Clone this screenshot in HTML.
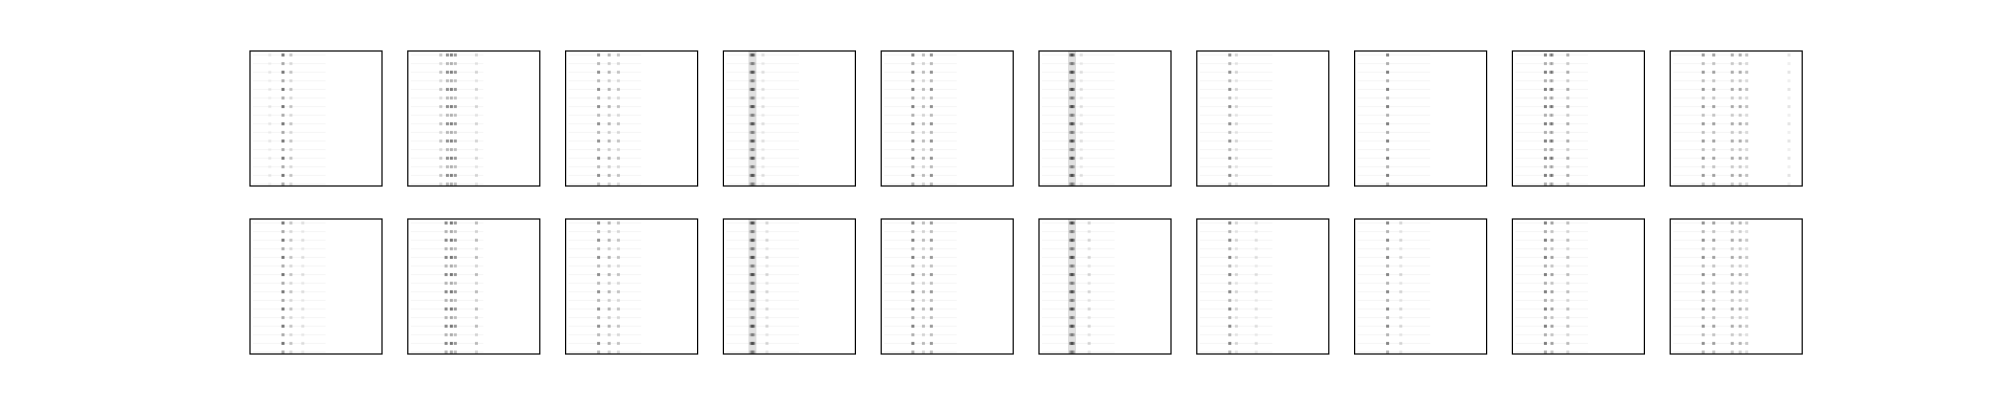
<!DOCTYPE html>
<html><head><meta charset="utf-8"><style>
html,body{margin:0;padding:0;background:#fff;}
svg{display:block;}
</style></head><body>
<svg id="fig" width="2000" height="400" viewBox="0 0 2000 400" xmlns="http://www.w3.org/2000/svg">
<rect width="2000" height="400" fill="#fff"/>
</svg>
<script>
// column fractions (0..1 of panel width) with dark dots, per panel (row 1 then row 2)
const panelColumns = [
  [0.25,0.31,0.15],[0.30,0.33,0.36,0.52,0.25],[0.25,0.33,0.40],[0.22,0.21,0.23,0.30],[0.24,0.32,0.38],
  [0.25,0.24,0.26,0.32],[0.25,0.30],[0.25],[0.25,0.30,0.42,0.29],[0.25,0.33,0.47,0.53,0.58,0.90],
  [0.25,0.31,0.40],[0.29,0.33,0.36,0.52],[0.25,0.33,0.40],[0.22,0.21,0.23,0.33],[0.24,0.32,0.38],
  [0.25,0.24,0.26,0.38],[0.25,0.30,0.45],[0.25,0.35],[0.25,0.30,0.42],[0.25,0.33,0.47,0.53,0.58]
];
// darkness of each column (0..1)
const panelIntensity = [
  [0.75,0.3,0.1],[0.6,0.7,0.55,0.2,0.3],[0.6,0.4,0.3],[0.5,0.5,0.5,0.15],[0.7,0.35,0.6],
  [0.6,0.5,0.5,0.15],[0.6,0.2],[0.7],[0.7,0.55,0.45,0.4],[0.55,0.5,0.45,0.45,0.35,0.15],
  [0.75,0.3,0.15],[0.65,0.75,0.55,0.35],[0.6,0.4,0.3],[0.55,0.5,0.5,0.2],[0.7,0.35,0.55],
  [0.6,0.5,0.5,0.2],[0.65,0.2,0.15],[0.65,0.2],[0.7,0.5,0.35],[0.6,0.5,0.45,0.4,0.3]
];
// whether panel has a continuous vertical band
const panelBand = [0,0,0,1,0,1,0,0,0,0, 0,0,0,1,0,1,0,0,0,0];
const rowsPerPanel = 16;

const svg = document.getElementById('fig');
const NS = 'http://www.w3.org/2000/svg';
const X0 = 250, PITCH = 157.8, W = 132, H = 135, Y0 = [51, 219];
function xPos(p, f){ return X0 + (p%10)*PITCH + f*W; }
function yPos(p, r){ return Y0[Math.floor(p/10)] + 4 + r*(H-6)/(rowsPerPanel-1); }

for (let p=0;p<20;p++){
  const g = document.createElementNS(NS,'g');
  
  
  const px = X0 + (p%10)*PITCH, py = Y0[Math.floor(p/10)];
  if (panelBand[p]) {
    const b = document.createElementNS(NS,'rect');
    
    
    b.setAttribute('x', xPos(p, panelColumns[p][0]) - 4);
    b.setAttribute('y', py);
    b.setAttribute('width', 8);
    b.setAttribute('height', H);
    b.setAttribute('fill', '#000');
    b.setAttribute('opacity', 0.12);
    g.appendChild(b);
  }
  for (let r=0;r<rowsPerPanel;r++){
    const ln = document.createElementNS(NS,'rect');
    
    
    ln.setAttribute('x', px + 3);
    ln.setAttribute('y', yPos(p,r) - 0.5);
    ln.setAttribute('width', W*0.55);
    ln.setAttribute('height', 1);
    ln.setAttribute('fill', '#000');
    ln.setAttribute('opacity', 0.04);
    g.appendChild(ln);
    panelColumns[p].forEach((f,c)=>{
      const d = document.createElementNS(NS,'rect');
      
      
      const v = panelIntensity[p][c] * (r%2===0 ? 1 : 0.6);
      d.setAttribute('x', xPos(p,f) - 1.5);
      d.setAttribute('y', yPos(p,r) - 1.5);
      d.setAttribute('width', 3);
      d.setAttribute('height', 3);
      d.setAttribute('fill', '#000');
      d.setAttribute('opacity', v*0.7);
      g.appendChild(d);
    });
  }
  const fr = document.createElementNS(NS,'rect');
  
  
  fr.setAttribute('x', px);
  fr.setAttribute('y', py);
  fr.setAttribute('width', W);
  fr.setAttribute('height', H);
  fr.setAttribute('fill', 'none');
  fr.setAttribute('stroke', '#000');
  fr.setAttribute('stroke-width', 1.2);
  g.appendChild(fr);
  svg.appendChild(g);
}
</script>
</body></html>
